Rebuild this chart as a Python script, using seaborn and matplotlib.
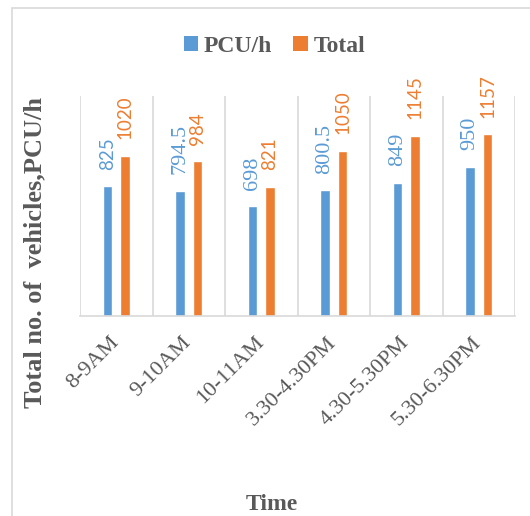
import matplotlib
matplotlib.use("Agg")
import matplotlib.pyplot as plt
from matplotlib.patches import Patch, Rectangle
from matplotlib.ticker import FixedLocator
import seaborn as sns
import pandas as pd

# ---- data ----
times = ["8-9AM", "9-10AM", "10-11AM", "3.30-4.30PM", "4.30-5.30PM", "5.30-6.30PM"]
pcu = [825, 794.5, 698, 800.5, 849, 950]
total = [1020, 984, 821, 1050, 1145, 1157]
series_names = ["PCU/h", "Total"]
colors = ["#5B9BD5", "#ED7D31"]

df = pd.DataFrame({
    "Time": times * 2,
    "value": pcu + total,
    "series": [series_names[0]] * len(times) + [series_names[1]] * len(times),
})

sns.set_theme(style="white")
plt.rcParams["font.family"] = ["Liberation Serif", "DejaVu Serif"]

W, H = 530, 516
fig = plt.figure(figsize=(W / 100, H / 100), dpi=100)
ax = fig.add_axes([80 / W, 1 - 316 / H, (515 - 80) / W, (316 - 96) / H])

sns.barplot(data=df, x="Time", y="value", hue="series", palette=colors,
            width=0.48, gap=0.46, ax=ax, legend=False, saturation=1)

ax.set_xlim(-0.5, len(times) - 0.5)
ax.set_ylim(0, 1400)
ax.set_yticks([])

# category separators
ax.xaxis.set_minor_locator(FixedLocator([i - 0.5 for i in range(len(times) + 1)]))
ax.grid(which="minor", axis="x", color="#D9D9D9", linewidth=1.2)
ax.grid(which="major", visible=False)
ax.tick_params(axis="x", which="both", length=0)
for s in ["top", "left", "right"]:
    ax.spines[s].set_visible(False)
ax.spines["bottom"].set_color("#D9D9D9")
ax.spines["bottom"].set_linewidth(1.2)

# tick labels
ax.set_xticks(range(len(times)))
ax.set_xticklabels(times, rotation=45, ha="right", va="center", rotation_mode="anchor",
                   fontsize=16, color="#595959", family="Liberation Serif")
ax.tick_params(axis="x", pad=17)

# bar labels
for ci, (cont, vals) in enumerate(zip(ax.containers, [pcu, total])):
    texts = ax.bar_label(cont, labels=[f"{v:g}" for v in vals], rotation=90,
                         padding=12, color=colors[ci], fontsize=13.5)
    for j, t in enumerate(texts):
        if ci == 0 and j > 0:
            t.set_family("Liberation Serif")
            t.set_fontsize(16)
        else:
            t.set_family("Lato")

# axis labels
ax.set_ylabel("Total no. of  vehicles,PCU/h", fontsize=19, fontweight="bold",
              color="#595959", family="Liberation Serif")
ax.yaxis.set_label_coords((46 - 80) / 435, (316 - 252) / 220)
ax.set_xlabel("Time", fontsize=17, fontweight="bold", color="#595959",
              family="Liberation Serif")
ax.xaxis.set_label_coords((272 - 80) / 435, (316 - 494) / 220)

# legend
handles = [Patch(facecolor=c, edgecolor="none") for c in colors]
fig.legend(handles, series_names, loc="center", bbox_to_anchor=(274.5 / W, 1 - 46 / H),
           ncol=2, frameon=False, handlelength=0.6, handleheight=0.6,
           handletextpad=0.25, columnspacing=0.9,
           prop={"family": "Liberation Serif", "weight": "bold", "size": 17},
           labelcolor="#595959")

# outer chart frame
fig.add_artist(Rectangle((12 / W, -0.1), 1.2, 0.1 + 1 - 8 / H, transform=fig.transFigure,
                         facecolor="none", edgecolor="#D9D9D9", linewidth=1.2))

fig.savefig("out.png", dpi=100)
